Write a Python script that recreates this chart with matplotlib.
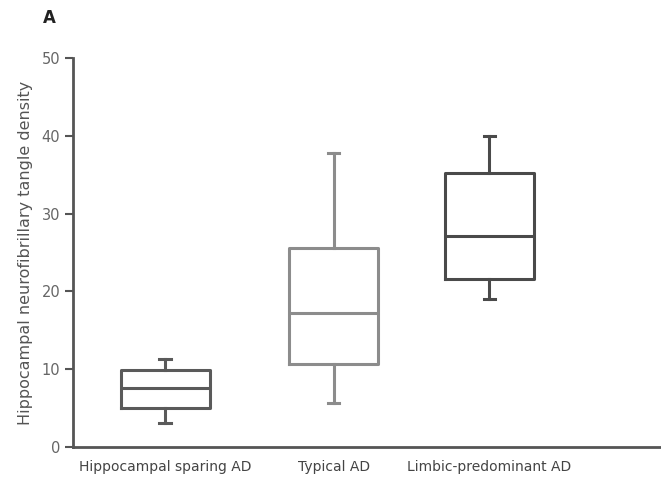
import matplotlib
matplotlib.use('Agg')
import matplotlib.pyplot as plt

# box stats
groups = ['Hippocampal sparing AD', 'Typical AD', 'Limbic-predominant AD']
whislo = [3.1, 5.6, 19.0]
q1 = [5.0, 10.7, 21.6]
med = [7.6, 17.2, 27.1]
q3 = [9.9, 25.6, 35.2]
whishi = [11.3, 37.8, 40.0]
yticks = [0, 10, 20, 30, 40, 50]

colors = ['#5a5a5a', '#8c8c8c', '#4a4a4a']
positions = [1, 2.04, 3.0]

stats = []
for i in range(len(groups)):
    stats.append({'label': groups[i], 'whislo': whislo[i], 'q1': q1[i],
                  'med': med[i], 'q3': q3[i], 'whishi': whishi[i], 'fliers': []})

fig = plt.figure(figsize=(6.61, 4.88), dpi=100)
ax = fig.add_axes([0.110, 0.084, 0.888, 0.797])

for i in range(len(groups)):
    c = colors[i]
    ax.bxp([stats[i]], positions=[positions[i]], widths=0.55, showfliers=False,
           boxprops=dict(color=c, linewidth=2.2),
           medianprops=dict(color=c, linewidth=2.2),
           whiskerprops=dict(color=c, linewidth=2.2),
           capprops=dict(color=c, linewidth=2.2), capwidths=0.07)

ax.set_xlim(0.43, 4.05)
ax.set_ylim(0, 50)
ax.set_yticks(yticks)
ax.set_xticks(positions)
ax.set_xticklabels(groups, fontsize=10, color='#444444')
for s in ['top', 'right']:
    ax.spines[s].set_visible(False)
for s in ['left', 'bottom']:
    ax.spines[s].set_color('#555555')
    ax.spines[s].set_linewidth(2)
ax.tick_params(axis='y', colors='#555555', labelcolor='#666666', labelsize=10.5,
               width=1.5, length=6, pad=3)
ax.tick_params(axis='x', length=0, pad=9)
ax.set_ylabel('Hippocampal neurofibrillary tangle density', fontsize=11.5,
              color='#555555', labelpad=6)

fig.text(0.065, 0.963, 'A', fontsize=12, fontweight='bold', color='#222222',
         ha='left', va='center')

fig.savefig('out.png', dpi=100)
